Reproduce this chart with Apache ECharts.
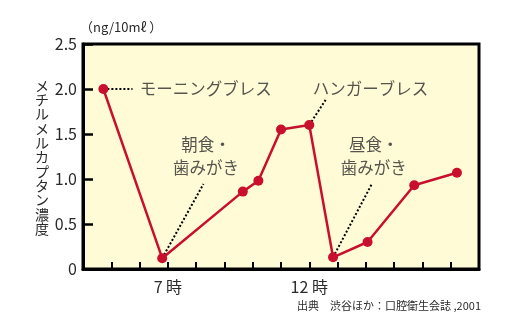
<!DOCTYPE html>
<html>
<head>
<meta charset="utf-8">
<script src="https://cdn.jsdelivr.net/npm/echarts@6/dist/echarts.min.js"></script>
<style>
  html, body { margin: 0; padding: 0; background: #fff; }
  #chart { width: 511px; height: 325px; }
</style>
</head>
<body>
<div id="chart"></div>
<script>
// Measurement times (hour of day) and methyl mercaptan concentration (ng/10mℓ)
const hours  = [4.72, 6.8, 9.65, 10.2, 11.0, 12.0, 12.84, 14.06, 15.71, 17.22];
const values = [2.0, 0.12, 0.86, 0.98, 1.55, 1.6, 0.13, 0.30, 0.93, 1.07];

// Hour ticks that carry a label
const hourLabels = { 7: '7 時', 12: '12 時' };
const yTickLabels = ['0', '0.5', '1.0', '1.5', '2.0', '2.5'];
const yTitle = 'メチルメルカプタン濃度';

// Annotations: text, the measurement it refers to, where its leader ends, where its text sits
const annoText   = ['モーニングブレス', 'ハンガーブレス', '朝食・\n歯みがき', '昼食・\n歯みがき'];
const annoPoint  = [0, 5, 1, 6];
const annoLeader = [[5.75, 2.0], [12.58, 1.88], [8.26, 0.945], [14.23, 0.956]];
const annoLabel  = [[8.34, 2.0], [14.16, 2.0], [8.35, 1.25], [14.28, 1.25]];

const INK = '#2a2a2a';
const RED = '#C8102E';
const JP = '"Noto Sans CJK JP", "Noto Sans", sans-serif';

const chart = echarts.init(document.getElementById('chart'), null, { renderer: 'canvas' });

const leaderSeries = annoText.map((t, i) => ({
  type: 'line',
  data: [[hours[annoPoint[i]], values[annoPoint[i]]], annoLeader[i]],
  symbol: 'none',
  silent: true,
  z: 1,
  lineStyle: { color: '#000', width: 2, type: [2, 2] }
}));

chart.setOption({
  animation: false,
  textStyle: { fontFamily: JP },
  grid: {
    left: 83, right: 32, top: 44, bottom: 56,
    show: true,
    backgroundColor: '#FFFBD6',
    borderColor: '#000',
    borderWidth: 3
  },
  xAxis: {
    type: 'value',
    min: 4, max: 18, interval: 1,
    axisLine: { lineStyle: { color: '#000', width: 3 } },
    axisTick: { inside: true, length: 7, lineStyle: { color: '#000', width: 2 } },
    splitLine: { show: false },
    axisLabel: {
      margin: 10,
      color: INK, fontSize: 16, fontFamily: JP,
      formatter: v => hourLabels[v] || ''
    }
  },
  yAxis: {
    type: 'value',
    min: 0, max: 2.5, interval: 0.5,
    axisLine: { lineStyle: { color: '#000', width: 3 } },
    axisTick: { inside: true, length: 10, lineStyle: { color: '#000', width: 2.5 } },
    splitLine: { show: false },
    axisLabel: {
      margin: 6,
      color: INK, fontSize: 16, fontFamily: JP,
      formatter: (v) => yTickLabels[Math.round(v / 0.5)]
    }
  },
  graphic: [
    {
      type: 'text', left: 80, top: 21,
      style: { text: '（ng/10mℓ ）', fill: INK, fontSize: 13, fontFamily: JP }
    },
    {
      // vertical axis title, one character per line
      type: 'text', x: 42, y: 157,
      style: {
        text: yTitle.split('').join('\n'),
        fill: INK, fontSize: 14, lineHeight: 14.3, fontFamily: JP,
        align: 'center', verticalAlign: 'middle'
      }
    },
    {
      type: 'text', right: 30, top: 300,
      style: { text: '出典　渋谷ほか：口腔衛生会誌 ,2001', fill: INK, fontSize: 11, fontFamily: JP }
    }
  ],
  series: [
    ...leaderSeries,
    {
      type: 'line',
      data: hours.map((h, i) => [h, values[i]]),
      symbol: 'circle',
      symbolSize: 10,
      z: 3,
      itemStyle: { color: RED },
      lineStyle: { color: RED, width: 2.5 }
    },
    {
      type: 'scatter',
      data: annoLabel.map((p, i) => ({ value: p, label: { formatter: annoText[i] } })),
      symbolSize: 0,
      silent: true,
      z: 4,
      label: {
        show: true,
        position: 'inside',
        color: INK,
        fontSize: 16.5,
        lineHeight: 23,
        fontFamily: JP,
        align: 'center',
        verticalAlign: 'middle'
      }
    }
  ]
});
</script>
</body>
</html>
